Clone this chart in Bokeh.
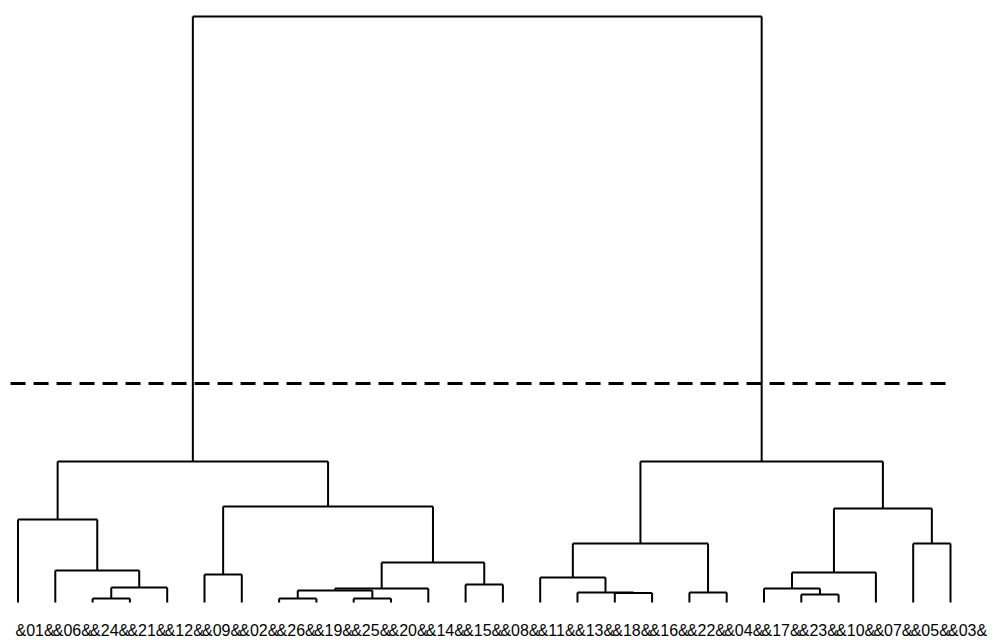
from bokeh.plotting import figure
from bokeh.models import Range1d, ColumnDataSource
from bokeh.core.properties import value
from bokeh.embed import file_html
from bokeh.resources import INLINE

# Leaf order (left to right) and their labels
leaves = ["01", "06", "24", "21", "12", "09", "02", "26", "19", "25", "20", "14", "15",
          "08", "11", "13", "18", "16", "22", "04", "17", "23", "10", "07", "05", "03"]

# Merges: children are leaf labels or "m<k>" references to earlier merges
merge_left = ["24", "m0", "06", "01", "09", "26", "25", "m5", "m7", "15", "m8", "m4", "m3",
              "18", "13", "11", "22", "m15", "23", "17", "m19", "05", "m20", "m17", "m12"]
merge_right = ["21", "12", "m1", "m2", "02", "19", "20", "m6", "14", "08", "m9", "m10", "m11",
               "16", "m13", "m14", "04", "m16", "10", "m18", "07", "03", "m21", "m22", "m23"]
merge_height = [0.68, 2.56, 5.46, 14.16, 4.78, 0.68, 0.68, 2.05, 2.39, 3.07, 6.83, 16.38, 24.06,
                1.62, 1.71, 4.27, 1.71, 10.07, 1.37, 2.39, 5.12, 10.07, 16.04, 24.06, 100.0]

cut_height = 37.37

# ---- build dendrogram segments from the linkage ----
pos = {lab: float(i) for i, lab in enumerate(leaves)}
hgt = {lab: 0.0 for lab in leaves}
x0, y0, x1, y1 = [], [], [], []
for k, (a, b, h) in enumerate(zip(merge_left, merge_right, merge_height)):
    xa, xb = pos[a], pos[b]
    # vertical legs
    x0 += [xa, xb]; y0 += [hgt[a], hgt[b]]; x1 += [xa, xb]; y1 += [h, h]
    # horizontal bar
    x0.append(xa); y0.append(h); x1.append(xb); y1.append(h)
    name = "m%d" % k
    pos[name] = (xa + xb) / 2.0
    hgt[name] = h

seg = ColumnDataSource(dict(x0=x0, y0=y0, x1=x1, y1=y1))

W, H = 990, 638
px_per_leaf = 37.3
px_per_unit = 5.86
x_start = -17.5 / px_per_leaf
y_top = 602.0 / px_per_unit

p = figure(width=W, height=H, output_backend="svg", toolbar_location=None,
           x_range=Range1d(x_start, x_start + W / px_per_leaf),
           y_range=Range1d(y_top - H / px_per_unit, y_top),
           x_axis_type=None, y_axis_type=None, min_border=0)
p.grid.visible = False
p.outline_line_color = None
p.background_fill_color = "white"
p.border_fill_color = "white"

p.segment(x0="x0", y0="y0", x1="x1", y1="y1", source=seg, line_color="black", line_width=2)

# cut line
p.line(x=[-0.2, len(leaves) - 1], y=[cut_height, cut_height], line_color="black",
       line_width=3, line_dash="15 8")

lab_src = ColumnDataSource(dict(x=[float(i) for i in range(len(leaves))],
                                y=[-4.78] * len(leaves),
                                t=["&" + l + "&" for l in leaves]))
p.text(x="x", y="y", text="t", source=lab_src, text_align="left", text_baseline="middle",
       x_offset=-2.5, text_font=value("Liberation Sans"), text_font_size="16px",
       text_color="black")

open("out.html", "w").write(file_html(p, INLINE))
